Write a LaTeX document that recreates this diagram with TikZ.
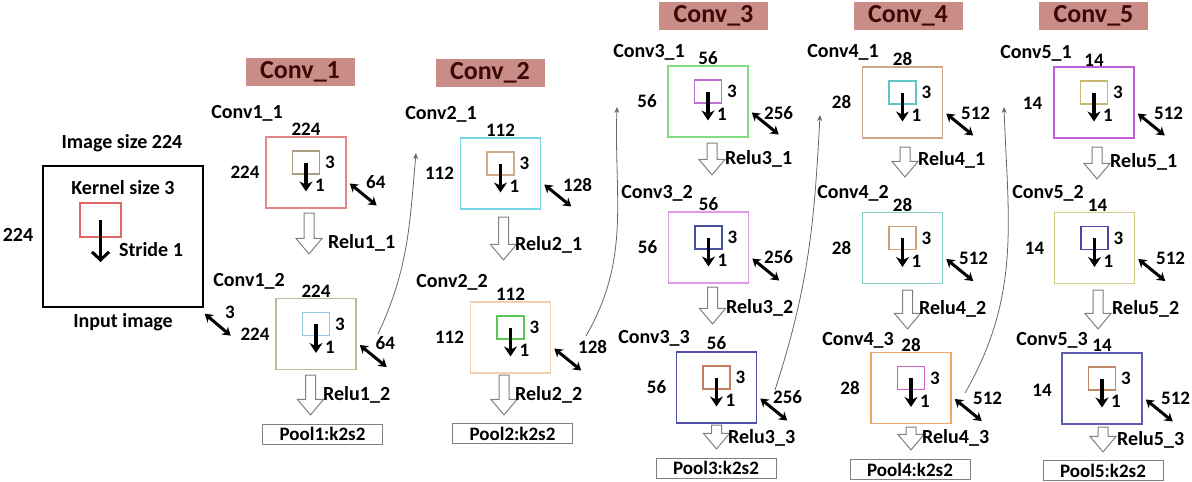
\documentclass[tikz,border=0pt]{standalone}
\usepackage{fontspec}
\setmainfont{Carlito}
\usetikzlibrary{arrows.meta,shapes.arrows}
\definecolor{hdrfill}{HTML}{C98C86}
\definecolor{hdrtext}{HTML}{3C0808}
\definecolor{kin}{HTML}{E06868}
\definecolor{c11}{HTML}{E08888}
\definecolor{k11}{HTML}{A8A080}
\definecolor{c12}{HTML}{C0BC94}
\definecolor{k12}{HTML}{98C8E8}
\definecolor{c21}{HTML}{78D4E8}
\definecolor{k21}{HTML}{D0AC88}
\definecolor{c22}{HTML}{F0D0B0}
\definecolor{k22}{HTML}{58C858}
\definecolor{c31}{HTML}{80DC80}
\definecolor{k31}{HTML}{C070D0}
\definecolor{c32}{HTML}{E098E8}
\definecolor{k32}{HTML}{4850A0}
\definecolor{c33}{HTML}{5050A8}
\definecolor{k33}{HTML}{C08060}
\definecolor{c41}{HTML}{D0A488}
\definecolor{k41}{HTML}{60C4C4}
\definecolor{c42}{HTML}{88D4CC}
\definecolor{k42}{HTML}{D0A078}
\definecolor{c43}{HTML}{F0A860}
\definecolor{k43}{HTML}{D060C8}
\definecolor{c51}{HTML}{C060D8}
\definecolor{k51}{HTML}{C8B870}
\definecolor{c52}{HTML}{D4CC88}
\definecolor{k52}{HTML}{4848A8}
\definecolor{c53}{HTML}{5C5CB0}
\definecolor{k53}{HTML}{C08868}
\tikzset{
  lbl/.style={font=\fontsize{20}{22}\selectfont\bfseries, inner sep=0pt},
  num/.style={font=\fontsize{19}{21}\selectfont\bfseries, inner sep=0pt},
  header/.style={fill=hdrfill, text=hdrtext, minimum width=109pt, minimum height=28pt, inner sep=0pt, font=\fontsize{26}{28}\selectfont\bfseries},
  fmap/.style={draw=#1, line width=1.5pt, minimum width=80pt, minimum height=71pt, inner sep=0pt},
  kern/.style={draw=#1, line width=1.4pt, minimum width=27pt, minimum height=23pt, inner sep=0pt},
  stride/.style={line width=3.2pt, -{Stealth[length=10pt,width=13pt]}},
  chan/.style={line width=3pt, {Stealth[length=8pt,width=10pt]}-{Stealth[length=8pt,width=10pt]}},
  relu/.style={single arrow, draw=gray, fill=white, line width=1pt, rotate=-90, anchor=tail, inner ysep=4.5pt, inner xsep={(#1-15)/2}, single arrow head extend=8pt, single arrow tip angle=80, single arrow head indent=0pt, minimum width=0pt, minimum height=0pt, outer sep=0pt},
  pool/.style={draw=gray, line width=1pt, minimum width=120pt, minimum height=20pt, inner sep=0pt, font=\fontsize{19}{21}\selectfont\bfseries},
  link/.style={draw=gray!80!black, line width=0.8pt, -{Stealth[length=6pt,width=5pt]}}
}
\begin{document}
\begin{tikzpicture}[x=1pt,y=-1pt]
\useasboundingbox (0,0) rectangle (1192,482);

\node[header] (h1) at (300,71.5) {Conv\_1};
\node[header] (h2) at (490,72.5) {Conv\_2};
\node[header] (h3) at (713.5,15.5) {Conv\_3};
\node[header] (h4) at (908,15.5) {Conv\_4};
\node[header] (h5) at (1093.5,15.5) {Conv\_5};

\node[draw, line width=1.4pt, minimum width=160pt, minimum height=141pt] (img) at (123,236.5) {};
\node[lbl] (imsize) at (122,143) {Image size 224};
\node[lbl] (kersize) at (123,188) {Kernel size 3};
\node[kern=kin, minimum width=41pt, minimum height=34pt] (kimg) at (100.5,220) {};
\draw[line width=3pt, -{Straight Barb[length=8pt,width=17pt]}] (kimg.center) -- ++(0,42);
\node[lbl] (stride1) at (151,250) {Stride 1};
\node[lbl] (imside) at (18,235) {224};
\node[lbl] (imname) at (123,322) {Input image};
\draw[chan] ([shift={(1,6)}]img.south east) -- ++(26,22);
\node[num] (imdepth) at (230,312) {3};

\begin{scope}[shift={(306,172.5)}]
\node[fmap=c11] (conv11) at (0,0) {};
\node[kern=k11] (ker11) at (0,-10) {};
\draw[stride] (ker11.center) -- ++(0,29);
\node[num] (top11) at (0,-43) {224};
\node[num] (side11) at (-61,0) {224};
\node[num] (ks11) at (24,-10) {3};
\node[num] (st11) at (14,13) {1};
\draw[chan] ([shift={(3,11)}]conv11.east) -- ++(27,22);
\node[num, anchor=west] (ch11) at (60,10) {64};
\node[lbl] (name11) at (-59,-59.5) {Conv1\_1};
\node[relu=49] (relu11) at (3,40.5) {};
\node[lbl, anchor=west] (rname11) at (22,70.5) {Relu1\_1};
\end{scope}

\begin{scope}[shift={(316,334)}]
\node[fmap=c12] (conv12) at (0,0) {};
\node[kern=k12] (ker12) at (0,-10) {};
\draw[stride] (ker12.center) -- ++(0,29);
\node[num] (top12) at (0,-43) {224};
\node[num] (side12) at (-61,0) {224};
\node[num] (ks12) at (24,-10) {3};
\node[num] (st12) at (14,13) {1};
\draw[chan] ([shift={(3,11)}]conv12.east) -- ++(27,22);
\node[num, anchor=west] (ch12) at (59.5,9) {64};
\node[lbl] (name12) at (-67,-53) {Conv1\_2};
\node[relu=48] (relu12) at (-5.5,41) {};
\node[lbl, anchor=west] (rname12) at (7,61) {Relu1\_2};
\end{scope}

\begin{scope}[shift={(500.5,173.5)}]
\node[fmap=c21] (conv21) at (0,0) {};
\node[kern=k21] (ker21) at (0,-10) {};
\draw[stride] (ker21.center) -- ++(0,29);
\node[num] (top21) at (0,-43) {112};
\node[num] (side21) at (-61,0) {112};
\node[num] (ks21) at (24,-10) {3};
\node[num] (st21) at (14,13) {1};
\draw[chan] ([shift={(3,11)}]conv21.east) -- ++(27,22);
\node[num, anchor=west] (ch21) at (62.5,11.5) {128};
\node[lbl] (name21) at (-59.5,-59.5) {Conv2\_1};
\node[relu=51] (relu21) at (3,43.5) {};
\node[lbl, anchor=west] (rname21) at (14.5,71.5) {Relu2\_1};
\end{scope}

\begin{scope}[shift={(510.5,337.5)}]
\node[fmap=c22] (conv22) at (0,0) {};
\node[kern=k22] (ker22) at (0,-10) {};
\draw[stride] (ker22.center) -- ++(0,29);
\node[num] (top22) at (0,-43) {112};
\node[num] (side22) at (-61,0) {112};
\node[num] (ks22) at (24,-10) {3};
\node[num] (st22) at (14,13) {1};
\draw[chan] ([shift={(3,11)}]conv22.east) -- ++(27,22);
\node[num, anchor=west] (ch22) at (67.5,9.5) {128};
\node[lbl] (name22) at (-58.5,-55.5) {Conv2\_2};
\node[relu=48] (relu22) at (-6.5,37.5) {};
\node[lbl, anchor=west] (rname22) at (4.5,57.5) {Relu2\_2};
\end{scope}

\begin{scope}[shift={(708,101.5)}]
\node[fmap=c31] (conv31) at (0,0) {};
\node[kern=k31] (ker31) at (0,-10) {};
\draw[stride] (ker31.center) -- ++(0,29);
\node[num] (top31) at (0,-43) {56};
\node[num] (side31) at (-61,0) {56};
\node[num] (ks31) at (24,-10) {3};
\node[num] (st31) at (14,13) {1};
\draw[chan] ([shift={(3,11)}]conv31.east) -- ++(27,22);
\node[num, anchor=west] (ch31) at (56,11.5) {256};
\node[lbl] (name31) at (-59,-49.5) {Conv3\_1};
\node[relu=40] (relu31) at (4,41.5) {};
\node[lbl, anchor=west] (rname31) at (17,57.5) {Relu3\_1};
\end{scope}

\begin{scope}[shift={(708.5,247.5)}]
\node[fmap=c32] (conv32) at (0,0) {};
\node[kern=k32] (ker32) at (0,-10) {};
\draw[stride] (ker32.center) -- ++(0,29);
\node[num] (top32) at (0,-43) {56};
\node[num] (side32) at (-61,0) {56};
\node[num] (ks32) at (24,-10) {3};
\node[num] (st32) at (14,13) {1};
\draw[chan] ([shift={(3,11)}]conv32.east) -- ++(27,22);
\node[num, anchor=west] (ch32) at (55.5,9.5) {256};
\node[lbl] (name32) at (-51.5,-54.5) {Conv3\_2};
\node[relu=45] (relu32) at (4,39.5) {};
\node[lbl, anchor=west] (rname32) at (17.5,60.5) {Relu3\_2};
\end{scope}

\begin{scope}[shift={(716.5,387.5)}]
\node[fmap=c33] (conv33) at (0,0) {};
\node[kern=k33] (ker33) at (0,-10) {};
\draw[stride] (ker33.center) -- ++(0,29);
\node[num] (top33) at (0,-44) {56};
\node[num] (side33) at (-60,0) {56};
\node[num] (ks33) at (24,-10) {3};
\node[num] (st33) at (14,13) {1};
\draw[chan] ([shift={(3,11)}]conv33.east) -- ++(27,22);
\node[num, anchor=west] (ch33) at (56.5,9.5) {256};
\node[lbl] (name33) at (-62.5,-49.5) {Conv3\_3};
\node[relu=32] (relu33) at (0,37.5) {};
\node[lbl, anchor=west] (rname33) at (11.5,50.5) {Relu3\_3};
\end{scope}

\begin{scope}[shift={(902.5,102.5)}]
\node[fmap=c41] (conv41) at (0,0) {};
\node[kern=k41] (ker41) at (0,-10) {};
\draw[stride] (ker41.center) -- ++(0,29);
\node[num] (top41) at (0,-43) {28};
\node[num] (side41) at (-61,0) {28};
\node[num] (ks41) at (24,-10) {3};
\node[num] (st41) at (14,13) {1};
\draw[chan] ([shift={(3,11)}]conv41.east) -- ++(27,22);
\node[num, anchor=west] (ch41) at (58.5,10.5) {512};
\node[lbl] (name41) at (-59.5,-50.5) {Conv4\_1};
\node[relu=38] (relu41) at (2.5,44.5) {};
\node[lbl, anchor=west] (rname41) at (15.5,57.5) {Relu4\_1};
\end{scope}

\begin{scope}[shift={(902.5,248)}]
\node[fmap=c42] (conv42) at (0,0) {};
\node[kern=k42] (ker42) at (0,-10) {};
\draw[stride] (ker42.center) -- ++(0,29);
\node[num] (top42) at (0,-43) {28};
\node[num] (side42) at (-61,0) {28};
\node[num] (ks42) at (24,-10) {3};
\node[num] (st42) at (14,13) {1};
\draw[chan] ([shift={(3,11)}]conv42.east) -- ++(27,22);
\node[num, anchor=west] (ch42) at (56.5,10) {512};
\node[lbl] (name42) at (-49.5,-55) {Conv4\_2};
\node[relu=47] (relu42) at (5,42) {};
\node[lbl, anchor=west] (rname42) at (16.5,61) {Relu4\_2};
\end{scope}

\begin{scope}[shift={(911,388)}]
\node[fmap=c43] (conv43) at (0,0) {};
\node[kern=k43] (ker43) at (0,-10) {};
\draw[stride] (ker43.center) -- ++(0,29);
\node[num] (top43) at (0,-43) {28};
\node[num] (side43) at (-61,0) {28};
\node[num] (ks43) at (24,-10) {3};
\node[num] (st43) at (14,13) {1};
\draw[chan] ([shift={(3,11)}]conv43.east) -- ++(27,22);
\node[num, anchor=west] (ch43) at (62,10) {512};
\node[lbl] (name43) at (-53,-48) {Conv4\_3};
\node[relu=31] (relu43) at (0,39) {};
\node[lbl, anchor=west] (rname43) at (11,50) {Relu4\_3};
\end{scope}

\begin{scope}[shift={(1094,102.5)}]
\node[fmap=c51] (conv51) at (0,0) {};
\node[kern=k51] (ker51) at (0,-10) {};
\draw[stride] (ker51.center) -- ++(0,29);
\node[num] (top51) at (0,-42.5) {14};
\node[num] (side51) at (-61.5,0.5) {14};
\node[num] (ks51) at (24,-10) {3};
\node[num] (st51) at (14,13) {1};
\draw[chan] ([shift={(3,11)}]conv51.east) -- ++(27,22);
\node[num, anchor=west] (ch51) at (60,10.5) {512};
\node[lbl] (name51) at (-58,-49.5) {Conv5\_1};
\node[relu=40] (relu51) at (3,44.5) {};
\node[lbl, anchor=west] (rname51) at (16,59.5) {Relu5\_1};
\end{scope}

\begin{scope}[shift={(1094.5,248)}]
\node[fmap=c52] (conv52) at (0,0) {};
\node[kern=k52] (ker52) at (0,-10) {};
\draw[stride] (ker52.center) -- ++(0,29);
\node[num] (top52) at (3,-43) {14};
\node[num] (side52) at (-60,0) {14};
\node[num] (ks52) at (24,-10) {3};
\node[num] (st52) at (14,13) {1};
\draw[chan] ([shift={(3,11)}]conv52.east) -- ++(27,22);
\node[num, anchor=west] (ch52) at (61.5,10) {512};
\node[lbl] (name52) at (-46.5,-55) {Conv5\_2};
\node[relu=47] (relu52) at (3.5,42) {};
\node[lbl, anchor=west] (rname52) at (17.5,61) {Relu5\_2};
\end{scope}

\begin{scope}[shift={(1102,388.5)}]
\node[fmap=c53] (conv53) at (0,0) {};
\node[kern=k53] (ker53) at (0,-10) {};
\draw[stride] (ker53.center) -- ++(0,29);
\node[num] (top53) at (0,-43.5) {14};
\node[num] (side53) at (-60,1.5) {14};
\node[num] (ks53) at (24,-10) {3};
\node[num] (st53) at (14,13) {1};
\draw[chan] ([shift={(3,11)}]conv53.east) -- ++(27,22);
\node[num, anchor=west] (ch53) at (59,9.5) {512};
\node[lbl] (name53) at (-50,-48.5) {Conv5\_3};
\node[relu=33] (relu53) at (1,38.5) {};
\node[lbl, anchor=west] (rname53) at (15,51.5) {Relu5\_3};
\end{scope}

\node[pool] (pool1) at (322.5,434) {Pool1:k2s2};
\node[pool] (pool2) at (512.5,433.5) {Pool2:k2s2};
\node[pool] (pool3) at (716,468) {Pool3:k2s2};
\node[pool] (pool4) at (910,469.5) {Pool4:k2s2};
\node[pool] (pool5) at (1103,470.5) {Pool5:k2s2};

\coordinate (from1) at (378,334);
\coordinate (into2) at (416,153);
\coordinate (from2) at (586,336);
\coordinate (into3) at (617,107);
\coordinate (from3) at (775,390);
\coordinate (into4) at (820,115);
\coordinate (from4) at (965,393);
\coordinate (into5) at (1004,107);
\draw[link] (from1) to[out=65,in=-95] (into2);
\draw[link] (from2) to[out=60,in=-92] (into3);
\draw[link] (from3) to[out=72,in=-93] (into4);
\draw[link] (from4) to[out=60,in=-88] (into5);
\end{tikzpicture}
\end{document}
